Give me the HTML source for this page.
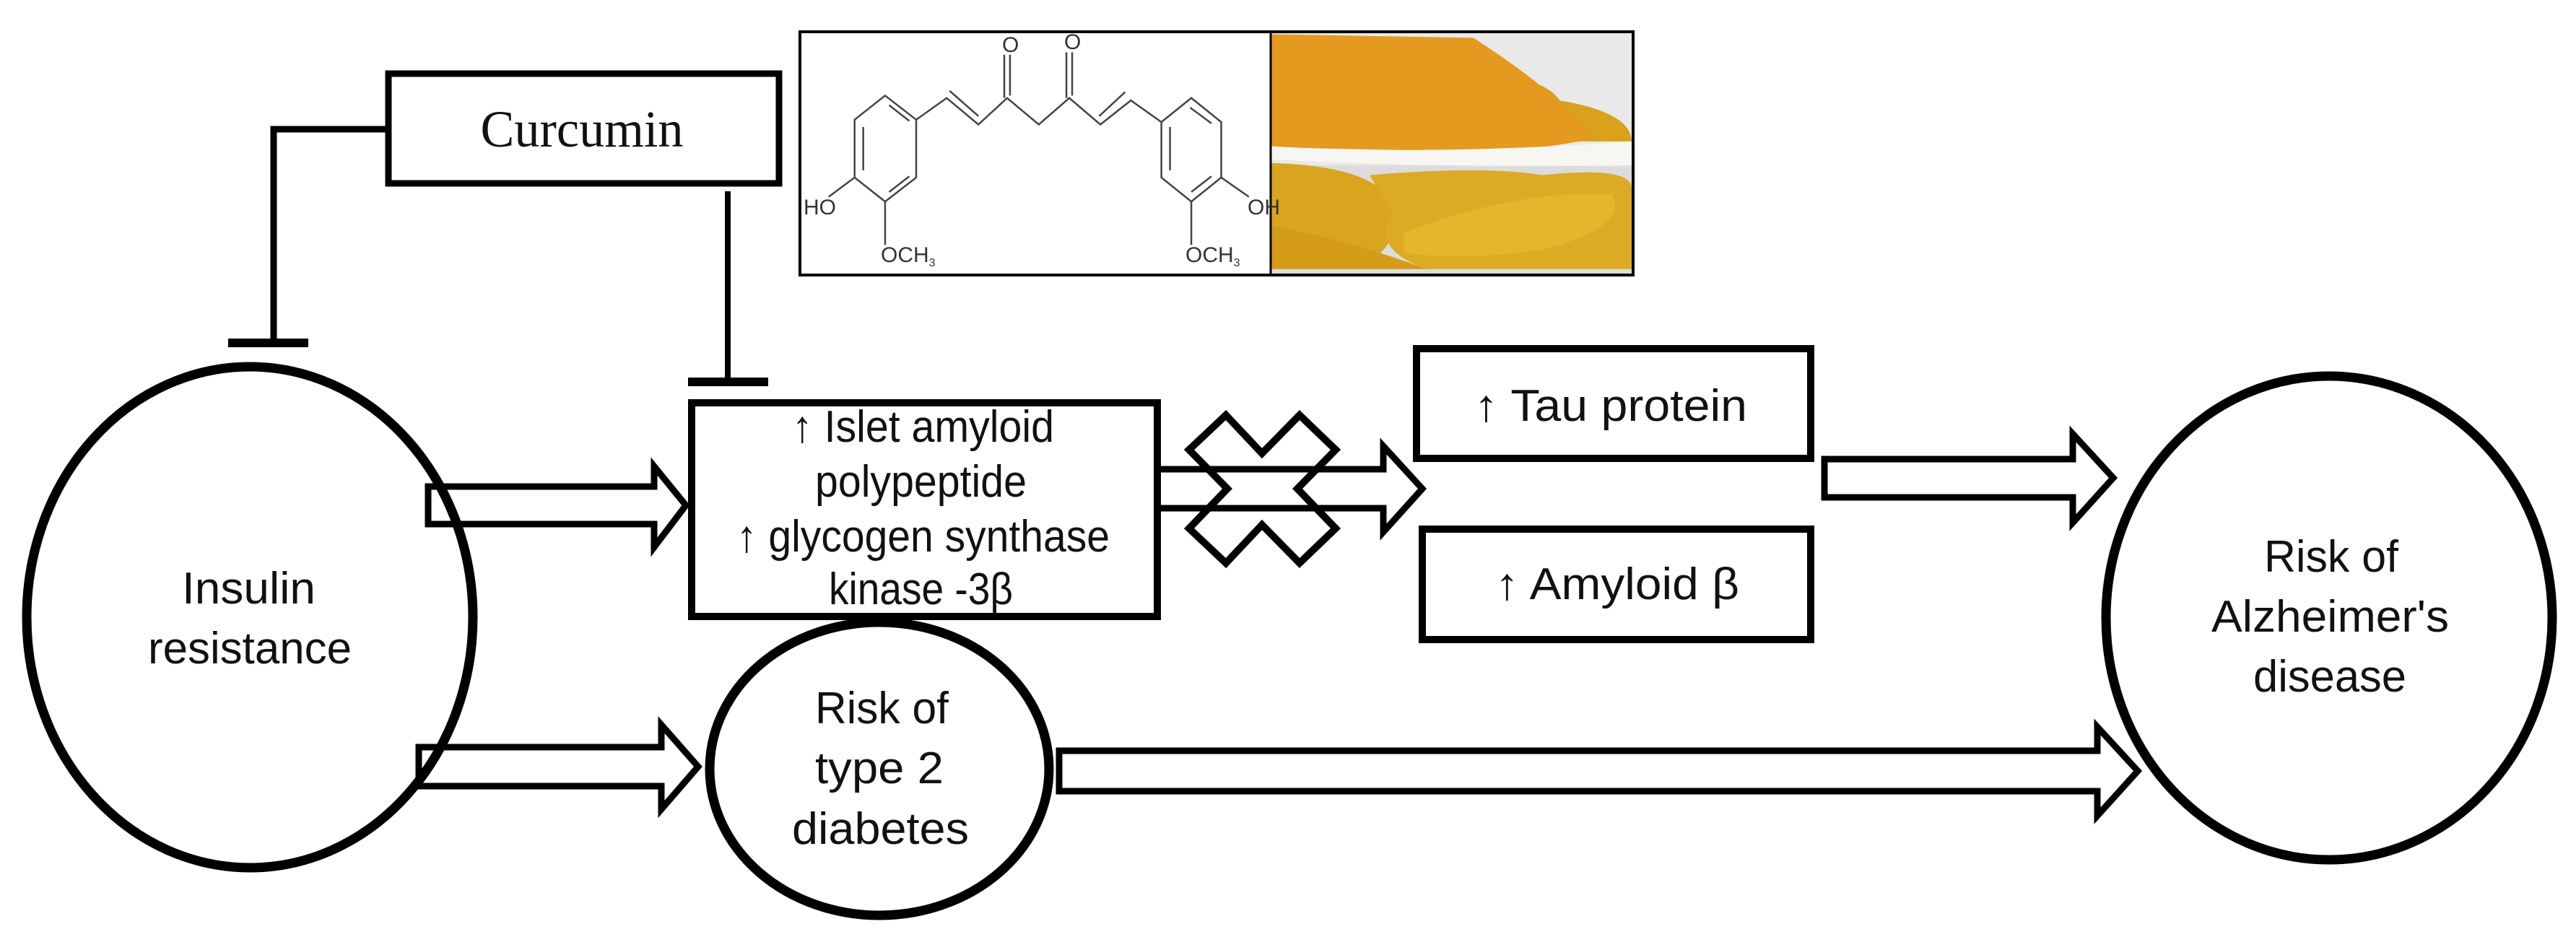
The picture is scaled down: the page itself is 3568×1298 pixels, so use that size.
<!DOCTYPE html>
<html><head><meta charset="utf-8"><style>
html,body{margin:0;padding:0;background:#fff;}
svg{display:block;}
.t{font-family:"Liberation Sans",sans-serif;font-size:62px;fill:#111;}
</style></head><body>
<svg width="3568" height="1298" viewBox="0 0 3568 1298" xmlns="http://www.w3.org/2000/svg">
<!-- Curcumin box -->
<rect x="538" y="102" width="541" height="152" fill="#fff" stroke="#000" stroke-width="9"/>
<text x="806" y="203" text-anchor="middle" font-family="Liberation Serif, serif" font-size="72" fill="#111" textLength="281" lengthAdjust="spacingAndGlyphs">Curcumin</text>
<!-- inhibition connectors -->
<polyline points="538,179 379,179 379,474" fill="none" stroke="#000" stroke-width="9"/>
<rect x="316" y="469" width="111" height="12" fill="#000"/>
<line x1="1008" y1="265" x2="1008" y2="528" stroke="#000" stroke-width="8"/>
<rect x="953" y="523" width="111" height="12" fill="#000"/>

<!-- photo -->
<g transform="translate(1100,29) scale(0.7972,0.3337)">
<rect x="828" y="42" width="630" height="1013" fill="#e9e9e9"/>
<rect x="828" y="600" width="630" height="455" fill="#dcdcdc"/>
<path d="M1180,240 Q1300,220 1330,330 Q1455,380 1455,500 L1330,500 Z" fill="#d8a21c"/>
<path d="M828,55 L1180,70 Q1330,300 1390,490 L1250,545 L828,525 Z" fill="#e49a1f"/>
<path d="M828,520 Q1100,560 1455,500 L1455,600 Q1100,610 828,575 Z" fill="#f8f6f2"/>
<path d="M828,590 Q1000,600 1040,750 Q1060,900 1000,1000 L828,1000 Z" fill="#d9a51e"/>
<path d="M1000,640 Q1200,600 1300,640 Q1460,600 1455,700 L1455,1030 L1100,1030 Q1000,950 1040,800 Z" fill="#dcaa24"/>
<path d="M828,850 Q950,900 1100,1030 L828,1030 Z" fill="#d49b18"/>
<path d="M1060,880 Q1250,700 1420,720 Q1455,850 1300,950 Q1150,1000 1060,960 Z" fill="#e6b52c"/>
</g>
<!-- structure frame -->
<rect x="1108" y="44" width="1154" height="337" fill="none" stroke="#000" stroke-width="4"/>
<line x1="1760" y1="44" x2="1760" y2="381" stroke="#000" stroke-width="3"/>
<g transform="translate(1100,29) scale(0.7972,0.3337)" fill="none" stroke="#444" stroke-width="2.5">
<polygon vector-effect="non-scaling-stroke" points="158,310 212,410 212,650 158,750 105,650 105,410"/>
<line vector-effect="non-scaling-stroke" x1="165" y1="350" x2="200" y2="415"/>
<line vector-effect="non-scaling-stroke" x1="120" y1="440" x2="120" y2="620"/>
<line vector-effect="non-scaling-stroke" x1="200" y1="645" x2="165" y2="710"/>
<polyline vector-effect="non-scaling-stroke" points="212,410 265,320 320,430 370,320 425,430 478,320 532,430 585,330 638,420"/>
<line vector-effect="non-scaling-stroke" x1="270" y1="290" x2="320" y2="395"/>
<line vector-effect="non-scaling-stroke" x1="530" y1="395" x2="575" y2="295"/>
<line vector-effect="non-scaling-stroke" x1="365" y1="140" x2="365" y2="320"/>
<line vector-effect="non-scaling-stroke" x1="375" y1="140" x2="375" y2="310"/>
<line vector-effect="non-scaling-stroke" x1="473" y1="130" x2="473" y2="320"/>
<line vector-effect="non-scaling-stroke" x1="483" y1="130" x2="483" y2="310"/>
<polygon vector-effect="non-scaling-stroke" points="690,320 742,420 742,650 690,750 638,650 638,420"/>
<line vector-effect="non-scaling-stroke" x1="688" y1="360" x2="725" y2="425"/>
<line vector-effect="non-scaling-stroke" x1="653" y1="440" x2="653" y2="620"/>
<line vector-effect="non-scaling-stroke" x1="725" y1="645" x2="690" y2="710"/>
<line vector-effect="non-scaling-stroke" x1="105" y1="650" x2="60" y2="730"/>
<line vector-effect="non-scaling-stroke" x1="158" y1="750" x2="158" y2="930"/>
<line vector-effect="non-scaling-stroke" x1="742" y1="650" x2="790" y2="730"/>
<line vector-effect="non-scaling-stroke" x1="690" y1="750" x2="690" y2="930"/>
</g>
<g font-family="Liberation Sans Narrow, Liberation Sans, sans-serif" font-size="30" fill="#333">
<text x="1388" y="72">O</text><text x="1474" y="68">O</text>
<text x="1113" y="297">HO</text><text x="1728" y="297">OH</text>
<text x="1220" y="363">OCH<tspan font-size="16" dy="6">3</tspan></text>
<text x="1642" y="363">OCH<tspan font-size="16" dy="6">3</tspan></text>
</g>

<!-- arrows -->
<g fill="#fff" stroke="#000" stroke-width="9" stroke-linejoin="miter">
<polygon points="593,674 906,674 906,646 950,700 906,758 906,726 593,726"/>
<polygon points="580,1035 916,1035 916,1004 967,1062 916,1121 916,1089 580,1089"/>
<polygon points="1467,1040 2905,1040 2905,1007 2961,1068 2905,1130 2905,1096 1467,1096"/>
<polygon points="2527,636 2871,636 2871,601 2927,662 2871,724 2871,689 2527,689"/>
<polygon points="1575,650 1916,650 1916,618 1970,677 1916,737 1916,704 1575,704"/>
</g>
<polygon points="1698,575 1748,628 1800,575 1850,623 1797,677 1850,732 1800,780 1748,727 1698,780 1647,732 1700,677 1647,623" fill="none" stroke="#000" stroke-width="10"/>

<!-- ellipses -->
<ellipse cx="346" cy="855" rx="309" ry="347" fill="none" stroke="#000" stroke-width="13"/>
<ellipse cx="1218" cy="1065" rx="235" ry="203" fill="#fff" stroke="#000" stroke-width="13"/>
<ellipse cx="3226" cy="856" rx="309" ry="335" fill="#fff" stroke="#000" stroke-width="13"/>

<!-- boxes -->
<rect x="958" y="558" width="645" height="296" fill="#fff" stroke="#000" stroke-width="10"/>
<rect x="1962" y="483" width="546" height="152" fill="#fff" stroke="#000" stroke-width="10"/>
<rect x="1970" y="733" width="538" height="153" fill="#fff" stroke="#000" stroke-width="10"/>

<!-- texts -->
<text class="t" x="252" y="836" textLength="185" lengthAdjust="spacingAndGlyphs">Insulin</text>
<text class="t" x="205" y="919" textLength="282" lengthAdjust="spacingAndGlyphs">resistance</text>
<text class="t" x="1097" y="612" textLength="363" lengthAdjust="spacingAndGlyphs">↑ Islet amyloid</text>
<text class="t" x="1129" y="688" textLength="293" lengthAdjust="spacingAndGlyphs">polypeptide</text>
<text class="t" x="1020" y="764" textLength="517" lengthAdjust="spacingAndGlyphs">↑ glycogen synthase</text>
<text class="t" x="1148" y="837" textLength="255" lengthAdjust="spacingAndGlyphs">kinase -3β</text>
<text class="t" x="1129" y="1002" textLength="185" lengthAdjust="spacingAndGlyphs">Risk of</text>
<text class="t" x="1129" y="1085" textLength="178" lengthAdjust="spacingAndGlyphs">type 2</text>
<text class="t" x="1097" y="1169" textLength="245" lengthAdjust="spacingAndGlyphs">diabetes</text>
<text class="t" x="2042" y="583" textLength="378" lengthAdjust="spacingAndGlyphs">↑ Tau protein</text>
<text class="t" x="2071" y="830" textLength="338" lengthAdjust="spacingAndGlyphs">↑ Amyloid β</text>
<text class="t" x="3136" y="792" textLength="186" lengthAdjust="spacingAndGlyphs">Risk of</text>
<text class="t" x="3063" y="875" textLength="329" lengthAdjust="spacingAndGlyphs">Alzheimer's</text>
<text class="t" x="3121" y="958" textLength="212" lengthAdjust="spacingAndGlyphs">disease</text>
</svg>
</body></html>
